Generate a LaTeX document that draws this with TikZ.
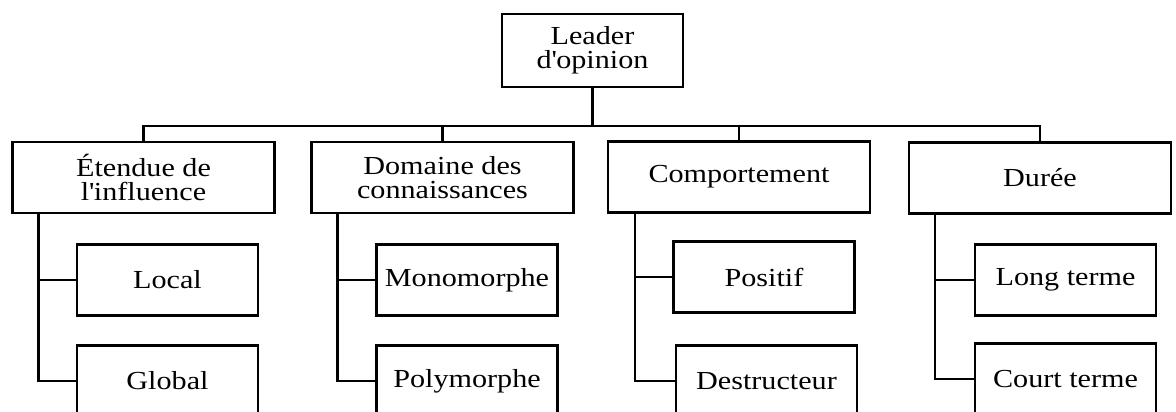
\documentclass[tikz,border=0pt]{standalone}
\usepackage{fontspec}
\setmainfont{Liberation Serif}[FakeStretch=1.16]
\tikzset{
  box/.style={draw, rectangle, line width=1.4pt, align=center, inner sep=0pt},
  topbox/.style={box, minimum width=3.62cm, minimum height=1.46cm},
  catbox/.style={box, minimum width=5.24cm, minimum height=1.42cm},
  subbox/.style={box, minimum width=3.62cm, minimum height=1.42cm},
  link/.style={line width=1.4pt}
}
\begin{document}
\begin{tikzpicture}[x=0.02cm, y=-0.02cm, font=\fontsize{14.8}{13.7}\selectfont]
       \useasboundingbox (0,0) rectangle (1176,412);
       \clip (0,0) rectangle (1176,412);
       \node[topbox] (leader) at (592.5,50.5) {Leader\\d\textquotesingle opinion};
       \node[catbox] (etendue) at (143.5,177.5) {Étendue de\\l\textquotesingle influence};
       \node[catbox] (domaine) at (442.5,177.5) {Domaine des\\connaissances};
       \node[catbox] (comport) at (739,177) {Comportement};
       \node[catbox] (duree) at (1040,178) {Durée};
       \node[subbox] (local) at (167.5,280) {Local};
       \node[subbox] (global) at (167.5,381) {Global};
       \node[subbox] (mono) at (467,280) {Monomorphe};
       \node[subbox] (poly) at (467,381) {Polymorphe};
       \node[subbox] (positif) at (764,277) {Positif};
       \node[subbox] (destr) at (766.5,381) {Destructeur};
       \node[subbox] (long) at (1065.5,280) {Long terme};
       \node[subbox] (court) at (1065.5,379) {Court terme};
       \coordinate (bus) at (0,126);
       \draw[link] (leader.south) -- (leader.south |- bus);
       \draw[link] (etendue.north) -- (etendue.north |- bus) -| (duree.north);
       \draw[link] (domaine.north) -- (domaine.north |- bus);
       \draw[link] (comport.north) -- (comport.north |- bus);
       \coordinate (s1) at ([xshift=0.54cm]etendue.south west);
       \coordinate (s2) at ([xshift=0.54cm]domaine.south west);
       \coordinate (s3) at ([xshift=0.56cm]comport.south west);
       \coordinate (s4) at ([xshift=0.54cm]duree.south west);
       \draw[link] (s1) |- (global.west); \draw[link] (s1 |- local.west) -- (local.west);
       \draw[link] (s2) |- (poly.west); \draw[link] (s2 |- mono.west) -- (mono.west);
       \draw[link] (s3) |- (destr.west); \draw[link] (s3 |- positif.west) -- (positif.west);
       \draw[link] (s4) |- (court.west); \draw[link] (s4 |- long.west) -- (long.west);
\end{tikzpicture}
\end{document}
